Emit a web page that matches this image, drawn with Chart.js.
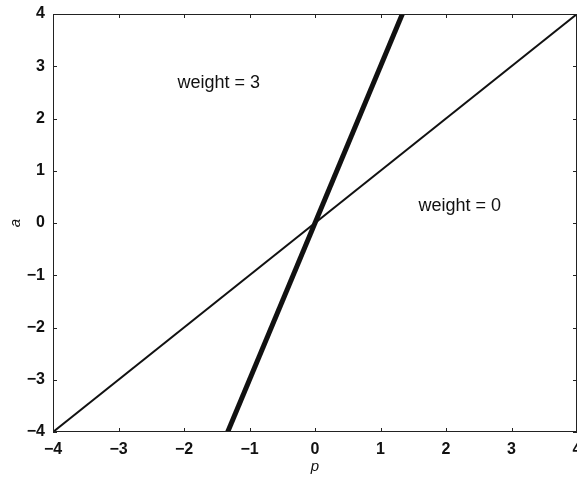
<!DOCTYPE html>
<html>
<head>
<meta charset="utf-8">
<script src="https://cdn.jsdelivr.net/npm/chart.js@4/dist/chart.umd.min.js"></script>
<style>
  html, body { margin: 0; padding: 0; background: #fff; }
  #wrap { width: 577px; height: 483px; }
</style>
</head>
<body>
<div id="wrap"><canvas id="chart"></canvas></div>
<script>
// Linha com peso 0: a = p
const pWeight0 = [-4, 4];
const aWeight0 = [-4, 4];
// Linha com peso 3: a = 3p
const pWeight3 = [-4 / 3, 4 / 3];
const aWeight3 = [-4, 4];

const tickValues = [-4, -3, -2, -1, 0, 1, 2, 3, 4];
const tickLabels = ['\u22124', '\u22123', '\u22122', '\u22121', '0', '1', '2', '3', '4'];

// Rótulos das retas (posição em unidades dos eixos)
const lineLabels = [
    { text: 'weight = 3', p: -1.47, a: 2.68 },
    { text: 'weight = 0', p: 2.21, a: 0.33 },
];

const FONT = '"Liberation Sans", Arial, sans-serif';

function toPoints(xs, ys) {
    return xs.map((x, i) => ({ x: x, y: ys[i] }));
}

// Moldura, marcas internas dos eixos e textos
const framePlugin = {
    id: 'frame',
    afterDatasetsDraw(chart) {
        const { ctx, chartArea: ca, scales } = chart;
        ctx.save();
        ctx.strokeStyle = '#222';
        ctx.lineWidth = 1;
        ctx.strokeRect(ca.left + 0.5, ca.top + 0.5, ca.right - ca.left - 1, ca.bottom - ca.top - 1);

        const len = 4;
        ctx.beginPath();
        tickValues.forEach(v => {
            const x = Math.round(scales.x.getPixelForValue(v)) + 0.5;
            ctx.moveTo(x, ca.bottom); ctx.lineTo(x, ca.bottom - len);
            ctx.moveTo(x, ca.top); ctx.lineTo(x, ca.top + len);
            const y = Math.round(scales.y.getPixelForValue(v)) + 0.5;
            ctx.moveTo(ca.left, y); ctx.lineTo(ca.left + len, y);
            ctx.moveTo(ca.right, y); ctx.lineTo(ca.right - len, y);
        });
        ctx.stroke();

        ctx.fillStyle = '#111';
        ctx.font = '18px ' + FONT;
        ctx.textAlign = 'center';
        ctx.textBaseline = 'middle';
        lineLabels.forEach(l => {
            ctx.fillText(l.text, scales.x.getPixelForValue(l.p), scales.y.getPixelForValue(l.a));
        });
        ctx.restore();
    }
};

const ctx = document.getElementById('chart').getContext('2d');
const myChart = new Chart(ctx, {
    type: 'scatter',
    data: {
        datasets: [
            {
                label: 'weight = 0',
                data: toPoints(pWeight0, aWeight0),
                showLine: true,
                borderColor: '#111',
                borderWidth: 2,
                pointRadius: 0,
            },
            {
                label: 'weight = 3',
                data: toPoints(pWeight3, aWeight3),
                showLine: true,
                borderColor: '#111',
                borderWidth: 5,
                pointRadius: 0,
            },
        ],
    },
    options: {
        responsive: true,
        maintainAspectRatio: false,
        animation: false,
        layout: { padding: { top: 14, right: 0, left: 0, bottom: 0 } },
        plugins: {
            legend: { display: false },
            tooltip: { enabled: false },
        },
        scales: {
            x: {
                type: 'linear',
                min: -4,
                max: 4,
                afterBuildTicks: s => { s.ticks = tickValues.map(v => ({ value: v })); },
                afterFit: s => { s.height = 51; s.paddingLeft = 0; s.paddingRight = 0; },
                grid: { display: false, drawTicks: false },
                border: { display: false },
                ticks: {
                    padding: 8,
                    color: '#111',
                    font: { family: FONT, size: 16, weight: 'bold' },
                    maxRotation: 0,
                    callback: v => tickLabels[tickValues.indexOf(v)],
                },
                title: {
                    display: true,
                    text: 'p',
                    color: '#111',
                    font: { family: FONT, size: 15, style: 'italic' },
                    padding: { top: 0, bottom: 7 },
                },
            },
            y: {
                type: 'linear',
                min: -4,
                max: 4,
                afterBuildTicks: s => { s.ticks = tickValues.map(v => ({ value: v })); },
                afterFit: s => { s.width = 53; s.paddingTop = 0; s.paddingBottom = 0; },
                grid: { display: false, drawTicks: false },
                border: { display: false },
                ticks: {
                    padding: 8,
                    color: '#111',
                    font: { family: FONT, size: 16, weight: 'bold' },
                    callback: v => tickLabels[tickValues.indexOf(v)],
                },
                title: {
                    display: true,
                    text: 'a',
                    color: '#111',
                    font: { family: FONT, size: 15, style: 'italic' },
                    padding: { top: 7, bottom: 0 },
                },
            },
        },
    },
    plugins: [framePlugin],
});
</script>
</body>
</html>
